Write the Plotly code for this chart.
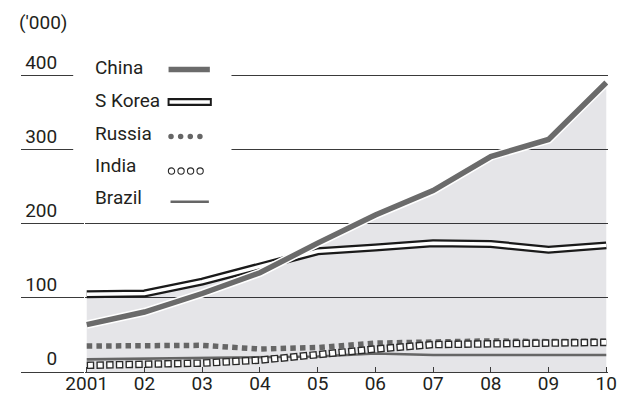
import numpy as np
import plotly.graph_objects as go

years = [2001, 2002, 2003, 2004, 2005, 2006, 2007, 2008, 2009, 2010]
year_labels = ["2001", "02", "03", "04", "05", "06", "07", "08", "09", "10"]
china = [64, 81, 106, 134, 174, 212, 245, 291, 314, 391]
s_korea = [105, 106, 122, 142, 163, 168, 174, 173, 165, 171]
russia = [35, 35, 36, 31, 33, 39, 41, 42, 41, 42]
india = [9, 10, 12, 16, 24, 31, 37, 38, 38, 40]
brazil = [17, 18, 18, 19, 21, 25, 23, 23, 23, 23]
y_ticks = [0, 100, 200, 300, 400]
legend_names = ["China", "S Korea", "Russia", "India", "Brazil"]

FONT = "Liberation Sans Narrow, Roboto, Arial, sans-serif"
TXT = "#231f20"
GRID = "#3a3a3a"

# upper envelope of China / S Korea for the shaded area (includes crossing point)
ex, ey = [], []
for i in range(len(years)):
    a, b = china[i], s_korea[i]
    ex.append(years[i]); ey.append(max(a, b))
    if i < len(years) - 1:
        d0 = china[i] - s_korea[i]
        d1 = china[i + 1] - s_korea[i + 1]
        if d0 * d1 < 0:
            t = d0 / (d0 - d1)
            ex.append(years[i] + t * (years[i + 1] - years[i]))
            ey.append(china[i] + t * (china[i + 1] - china[i]))

fig = go.Figure()
fig.add_trace(go.Scatter(x=ex, y=ey, fill="tozeroy", mode="none",
                         fillcolor="rgba(20,20,45,0.11)", hoverinfo="skip"))
fig.add_trace(go.Scatter(x=years, y=brazil, mode="lines",
                         line=dict(color="#666666", width=2.6)))
fig.add_trace(go.Scatter(x=years, y=russia, mode="lines",
                         line=dict(color="#666666", width=5.5, dash="5.5px,4.2px")))
fig.add_trace(go.Scatter(x=years, y=india, mode="lines",
                         line=dict(color="#2a2a2a", width=7.5, dash="7.5px,2.2px")))
fig.add_trace(go.Scatter(x=years, y=india, mode="lines",
                         line=dict(color="#ffffff", width=4.8, dash="0px,1.35px,4.8px,3.55px")))
fig.add_trace(go.Scatter(x=years, y=s_korea, mode="lines",
                         line=dict(color="#1a1a1a", width=8)))
fig.add_trace(go.Scatter(x=years, y=s_korea, mode="lines",
                         line=dict(color="#ffffff", width=3.5)))
fig.add_trace(go.Scatter(x=years, y=china, mode="lines",
                         line=dict(color="#ffffff", width=8.5)))
fig.add_trace(go.Scatter(x=years, y=china, mode="lines",
                         line=dict(color="#6b6b6b", width=5.5)))

W, H = 628, 406
ML, MR, MT, MB = 85, 11, 61, 30
PW, PH = W - ML - MR, H - MT - MB

def px(x):
    return (x - ML) / PW

def py(y):
    return (H - MB - y) / PH

shapes = [dict(type="rect", xref="paper", yref="paper", layer="above",
               x0=px(73), x1=px(234), y0=py(216), y1=py(56),
               fillcolor="white", line=dict(width=0))]
row_y = [68, 101.5, 134, 166.5, 199]
sample_y = [69.5, 102.5, 137.5, 172.5, 203.5]
# China sample
shapes.append(dict(type="line", xref="paper", yref="paper", layer="above",
                   x0=px(170), x1=px(212), y0=py(sample_y[0]), y1=py(sample_y[0]),
                   line=dict(color="#6b6b6b", width=5.5)))
# S Korea sample
shapes.append(dict(type="line", xref="paper", yref="paper", layer="above",
                   x0=px(169), x1=px(214), y0=py(sample_y[1]), y1=py(sample_y[1]),
                   line=dict(color="#1a1a1a", width=8)))
shapes.append(dict(type="line", xref="paper", yref="paper", layer="above",
                   x0=px(171), x1=px(212), y0=py(sample_y[1]), y1=py(sample_y[1]),
                   line=dict(color="#ffffff", width=3.5)))
# Russia dots
for cx in [172.5, 182.3, 192.1, 201.9]:
    r = 2.8
    shapes.append(dict(type="circle", xref="paper", yref="paper", layer="above",
                       x0=px(cx - r), x1=px(cx + r), y0=py(sample_y[2] + r), y1=py(sample_y[2] - r),
                       fillcolor="#666666", line=dict(width=0)))
# India circles
for cx in [173, 182.7, 192.4, 202.1]:
    r = 3.2
    shapes.append(dict(type="circle", xref="paper", yref="paper", layer="above",
                       x0=px(cx - r), x1=px(cx + r), y0=py(sample_y[3] + r), y1=py(sample_y[3] - r),
                       fillcolor="white", line=dict(color="#2a2a2a", width=1.1)))
# Brazil sample
shapes.append(dict(type="line", xref="paper", yref="paper", layer="above",
                   x0=px(172), x1=px(211), y0=py(sample_y[4]), y1=py(sample_y[4]),
                   line=dict(color="#666666", width=2.6)))

annotations = []
for name, yy in zip(legend_names, row_y):
    annotations.append(dict(text=name, xref="paper", yref="paper", x=px(93), y=py(yy),
                            xanchor="left", yanchor="middle", showarrow=False,
                            font=dict(family=FONT, size=19, color=TXT)))
annotations.append(dict(text="('000)", xref="paper", yref="paper", x=px(16), y=py(22),
                        xanchor="left", yanchor="middle", showarrow=False,
                        font=dict(family=FONT, size=19, color=TXT)))

fig.update_layout(
    width=W, height=H, autosize=False,
    margin=dict(l=ML, r=MR, t=MT, b=MB, pad=0),
    paper_bgcolor="white", plot_bgcolor="white",
    showlegend=False,
    shapes=shapes, annotations=annotations,
    font=dict(family=FONT, size=19, color=TXT),
    xaxis=dict(range=[2000.97, 2010.03], tickvals=years, ticktext=year_labels,
               showgrid=False, zeroline=False, showline=True, linecolor=GRID, linewidth=1.3,
               ticks="inside", ticklen=5, tickcolor=GRID, tickwidth=1,
               ticklabelstandoff=-6,
               tickfont=dict(family=FONT, size=19, color=TXT)),
    yaxis=dict(range=[0, 420], tickvals=y_ticks, ticktext=[str(v) for v in y_ticks],
               showgrid=True, gridcolor=GRID, gridwidth=1, zeroline=False, showline=False,
               ticks="outside", ticklen=63, tickcolor=GRID, tickwidth=1,
               ticklabelposition="outside top", ticklabelstandoff=23,
               tickfont=dict(family=FONT, size=19, color=TXT)),
)

fig.write_html("out.html")
